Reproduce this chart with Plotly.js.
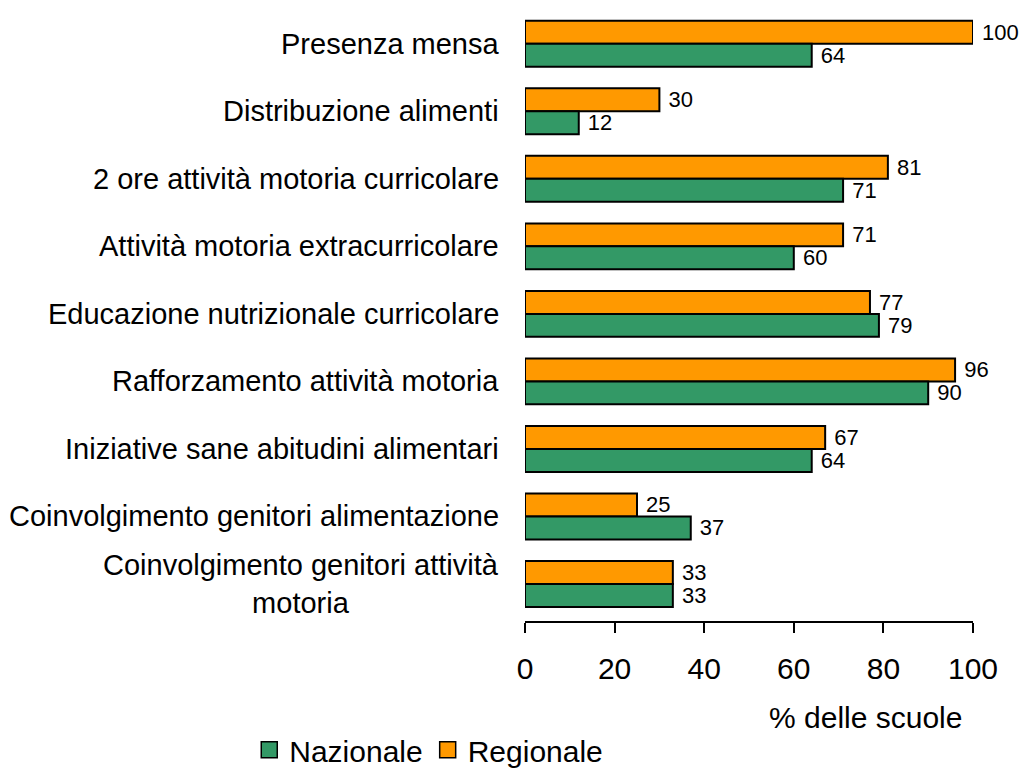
<!DOCTYPE html>
<html>
<head>
<meta charset="utf-8">
<script src="https://cdn.plot.ly/plotly-3.0.1.min.js"></script>
<style>html,body{margin:0;padding:0;background:#fff;}#chart{width:1030px;height:773px;}</style>
</head>
<body>
<div id="chart"></div>
<script>
const categories = [
  "Presenza mensa",
  "Distribuzione alimenti",
  "2 ore attività motoria curricolare",
  "Attività motoria extracurricolare",
  "Educazione nutrizionale curricolare",
  "Rafforzamento attività motoria",
  "Iniziative sane abitudini alimentari",
  "Coinvolgimento genitori alimentazione",
  "Coinvolgimento genitori attività<br>motoria"
];
const regionale = [100, 30, 81, 71, 77, 96, 67, 25, 33];
const nazionale = [64, 12, 71, 60, 79, 90, 64, 37, 33];
const xTicks = [0, 20, 40, 60, 80, 100];
const COLOR_REG = "#FF9900";
const COLOR_NAZ = "#339966";

const FONT = "Liberation Sans, Arial, sans-serif";

function barTrace(name, vals, color) {
  return {
    type: "bar", orientation: "h", name: name, showlegend: false,
    y: categories, x: vals,
    marker: {color: color, line: {color: "#000", width: 2}},
    text: vals.map(String), texttemplate: "\u00a0%{text}",
    textposition: "outside", constraintext: "none", cliponaxis: false,
    textfont: {family: FONT, size: 22, color: "#000"}
  };
}
function legendTrace(name, color) {
  return {
    type: "scatter", mode: "markers", name: name, x: [null], y: [null],
    marker: {symbol: "square", size: 20, color: color, line: {color: "#000", width: 1.5}},
    showlegend: true, hoverinfo: "skip"
  };
}

const traces = [
  barTrace("Regionale", regionale, COLOR_REG),
  barTrace("Nazionale", nazionale, COLOR_NAZ),
  legendTrace("Nazionale", COLOR_NAZ),
  legendTrace("Regionale", COLOR_REG)
];

const annotations = categories.map(c => ({
  xref: "paper", yref: "y", x: 0, y: c, xanchor: "right", yanchor: "middle",
  xshift: -24, text: c, showarrow: false, align: "center",
  font: {family: FONT, size: 29, color: "#000"}
}));
annotations.push({
  xref: "paper", yref: "paper", x: 0.761, y: 0, xanchor: "center", yanchor: "middle",
  yshift: -96, text: "% delle scuole", showarrow: false,
  font: {family: FONT, size: 30, color: "#000"}
});

const layout = {
  width: 1030, height: 773,
  margin: {l: 525, r: 57, t: 10, b: 152},
  paper_bgcolor: "#fff", plot_bgcolor: "#fff",
  barmode: "group", bargap: 0.32, bargroupgap: 0,
  font: {family: FONT, color: "#000"},
  showlegend: true,
  legend: {
    orientation: "h", traceorder: "normal",
    x: 0.242, xref: "container", xanchor: "left",
    y: 0.03, yref: "container", yanchor: "middle",
    font: {family: FONT, size: 30, color: "#000"},
    itemwidth: 30, tracegroupgap: 0
  },
  xaxis: {
    range: [0, 100], tickvals: xTicks, ticktext: xTicks.map(String),
    showgrid: false, zeroline: false,
    showline: true, linecolor: "#000", linewidth: 2,
    ticks: "outside", ticklen: 10, tickwidth: 2, tickcolor: "#000",
    tickfont: {family: FONT, size: 30, color: "#000"},
    ticklabelstandoff: 10, fixedrange: true
  },
  yaxis: {
    autorange: "reversed", showticklabels: false, showgrid: false,
    zeroline: false, showline: false, ticks: "", fixedrange: true
  },
  annotations: annotations
};

Plotly.newPlot("chart", traces, layout, {displayModeBar: false, staticPlot: true});
</script>
</body>
</html>
